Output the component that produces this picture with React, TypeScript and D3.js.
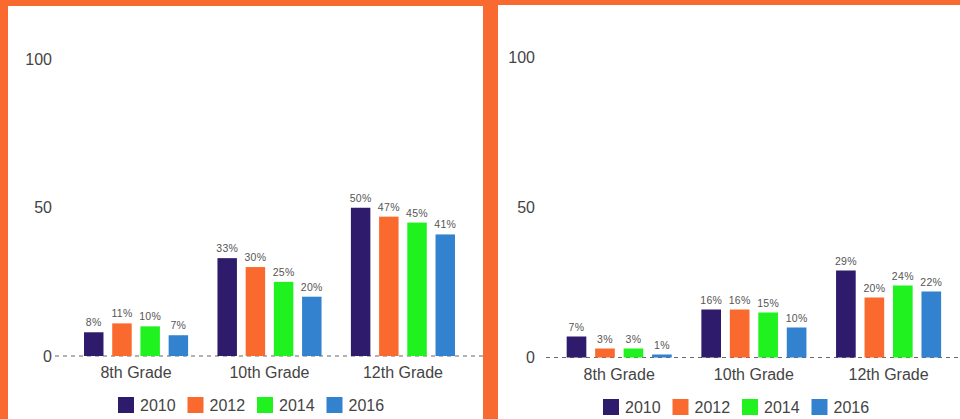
import * as d3 from "d3";

const categories = ["8th Grade", "10th Grade", "12th Grade"];
const years = ["2010", "2012", "2014", "2016"];
const colors = ["#2f1b6c", "#fa6a2e", "#1ff21f", "#3282d0"];
const yTicks = [0, 50, 100];

// values per category, per year (percent)
const leftValues = [
  [8, 11, 10, 7],
  [33, 30, 25, 20],
  [50, 47, 45, 41],
];
const rightValues = [
  [7, 3, 3, 1],
  [16, 16, 15, 10],
  [29, 20, 24, 22],
];

const W = 960;
const H = 419;
const ORANGE = "#f96a30";

type PanelProps = {
  values: number[][];
  xRange: [number, number];
  yZero: number;
  yTop: number;
  tickX: number;
  dashStart: number;
  dashEnd: number;
  legendX: number;
  legendY: number;
};

function Panel({ values, xRange, yZero, yTop, tickX, dashStart, dashEnd, legendX, legendY }: PanelProps) {
  const x0 = d3.scaleBand<string>().domain(categories).range(xRange).paddingInner(0.22).paddingOuter(0.21);
  const x1 = d3.scaleBand<string>().domain(years).range([0, x0.bandwidth()]).paddingInner(0.31).paddingOuter(0);
  const y = d3.scaleLinear().domain([0, 100]).range([yZero, yTop]);

  return (
    <g>
      {yTicks.map((t) => (
        <text key={t} x={tickX} y={y(t)} dy="0.35em" textAnchor="end" fontSize={16} fill="#444">
          {t}
        </text>
      ))}
      <line x1={dashStart} x2={dashEnd} y1={yZero} y2={yZero} stroke="#666" strokeDasharray="4,4" strokeWidth={1} />
      {categories.map((c, ci) => (
        <g key={c} transform={`translate(${x0(c)},0)`}>
          {years.map((yr, yi) => {
            const v = values[ci][yi];
            const bx = x1(yr)!;
            return (
              <g key={yr}>
                <rect x={bx} y={y(v)} width={x1.bandwidth()} height={yZero - y(v)} fill={colors[yi]} />
                <text
                  x={bx + x1.bandwidth() / 2}
                  y={y(v) - 6}
                  textAnchor="middle"
                  fontSize={10.5}
                  fill="#555"
                  letterSpacing={0.3}
                >
                  {v}%
                </text>
              </g>
            );
          })}
          <text x={x0.bandwidth() / 2} y={yZero + 22} textAnchor="middle" fontSize={16} fill="#444">
            {c}
          </text>
        </g>
      ))}
      {years.map((yr, i) => (
        <g key={yr} transform={`translate(${legendX + i * 69.5},${legendY})`}>
          <rect x={0} y={0} width={16} height={16} fill={colors[i]} />
          <text x={22} y={8} dy="0.35em" fontSize={16} fill="#444">
            {yr}
          </text>
        </g>
      ))}
    </g>
  );
}

export default function App() {
  return (
    <svg
      width={W}
      height={H}
      style={{ position: "absolute", left: 0, top: 0, fontFamily: "Arial, 'Liberation Sans', sans-serif" }}
    >
      <rect x={0} y={0} width={W} height={H} fill="#fff" />
      <Panel
        values={leftValues}
        xRange={[56, 483]}
        yZero={356}
        yTop={59.5}
        tickX={52}
        dashStart={55}
        dashEnd={483}
        legendX={118}
        legendY={397}
      />
      <Panel
        values={rightValues}
        xRange={[538.4, 969.4]}
        yZero={357.5}
        yTop={57.5}
        tickX={535}
        dashStart={546}
        dashEnd={960}
        legendX={603}
        legendY={399}
      />
      {/* orange frame */}
      <rect x={0} y={0} width={8} height={H} fill={ORANGE} />
      <rect x={0} y={0} width={490} height={6} fill={ORANGE} />
      <rect x={490} y={0} width={W - 490} height={5} fill={ORANGE} />
      <rect x={483} y={0} width={15} height={H} fill={ORANGE} />
    </svg>
  );
}
